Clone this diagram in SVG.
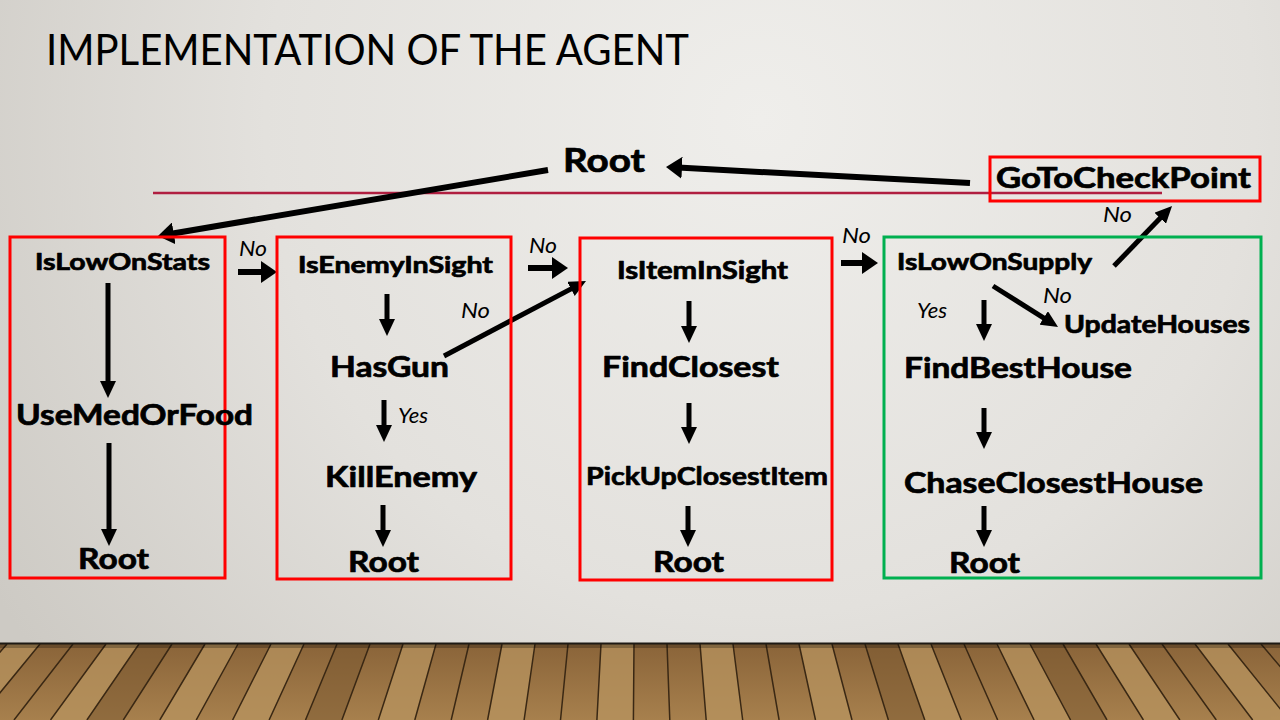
<svg xmlns="http://www.w3.org/2000/svg" width="1280" height="720" viewBox="0 0 1280 720">
<defs>
<radialGradient id="wall" cx="760" cy="120" r="900" gradientUnits="userSpaceOnUse">
<stop offset="0" stop-color="#efeeeb"/>
<stop offset="0.55" stop-color="#e3e1dd"/>
<stop offset="1" stop-color="#cdcac4"/>
</radialGradient>
<linearGradient id="floor" x1="0" y1="644" x2="0" y2="720" gradientUnits="userSpaceOnUse">
<stop offset="0" stop-color="#8a6439"/>
<stop offset="1" stop-color="#a7804d"/>
</linearGradient>
<marker id="ah" viewBox="0 0 17 16" markerWidth="17" markerHeight="16" refX="5" refY="8" orient="auto" markerUnits="userSpaceOnUse">
<path d="M0,0 L17,8 L0,16 z" fill="#000"/>
</marker>
<marker id="ahL" viewBox="0 0 16 22" markerWidth="16" markerHeight="22" refX="4" refY="11" orient="auto" markerUnits="userSpaceOnUse">
<path d="M0,0 L16,11 L0,22 z" fill="#000"/>
</marker>
</defs>
<style>
.b{font-family:Lato,"Open Sans","Liberation Sans",sans-serif;font-weight:bold;fill:#000;stroke:#000;stroke-width:0.7;stroke-linejoin:round}
.i{font-family:Lato,"Open Sans","Liberation Sans",sans-serif;font-style:italic;fill:#000;font-size:22px}
.title{font-family:Lato,"Open Sans","Liberation Sans",sans-serif;font-size:42px;fill:#000}
.red{fill:none;stroke:#ff0000;stroke-width:3}
.grn{fill:none;stroke:#00b050;stroke-width:3}
.c{stroke:#000;stroke-width:5;fill:none;marker-end:url(#ah)}
.cL{stroke:#000;stroke-width:6;fill:none;marker-end:url(#ahL)}
.plank{stroke:#3a2814;stroke-width:1.5;fill:none}
</style>

<rect x="0" y="0" width="1280" height="720" fill="url(#wall)"/>

<g id="floor-area">
<rect x="0" y="644" width="1280" height="76" fill="url(#floor)"/>
<g fill="#b8945f" opacity="0.75">
<polygon points="7,644 40,644 -22.4,720 -58.8,720"/>
<polygon points="106,644 139,644 86.9,720 50.5,720"/>
<polygon points="205,644 238,644 196.2,720 159.8,720"/>
<polygon points="271,644 304,644 269.1,720 232.6,720"/>
<polygon points="403,644 436,644 414.8,720 378.3,720"/>
<polygon points="502,644 535,644 524.1,720 487.6,720"/>
<polygon points="601,644 634,644 633.4,720 596.9,720"/>
<polygon points="700,644 733,644 742.7,720 706.2,720"/>
<polygon points="799,644 832,644 852,720 815.5,720"/>
<polygon points="898,644 931,644 961.3,720 924.8,720"/>
<polygon points="997,644 1030,644 1070.6,720 1034.1,720"/>
<polygon points="1096,644 1129,644 1179.9,720 1143.4,720"/>
<polygon points="1195,644 1228,644 1289.2,720 1252.7,720"/>
<polygon points="1294,644 1327,644 1398.4,720 1361.9,720"/>
</g>
<g fill="#7a5730" opacity="0.5">
<polygon points="337,644 370,644 341.9,720 305.5,720"/>
<polygon points="865,644 898,644 924.8,720 888.4,720"/>
<polygon points="139,644 172,644 123.3,720 86.9,720"/>
<polygon points="1030,644 1063,644 1107,720 1070.6,720"/>
</g>
<path class="plank" d="M7,644 L-58.8,720 M40,644 L-22.4,720 M73,644 L14,720 M106,644 L50.5,720 M139,644 L86.9,720 M172,644 L123.3,720 M205,644 L159.8,720 M238,644 L196.2,720 M271,644 L232.6,720 M304,644 L269.1,720 M337,644 L305.5,720 M370,644 L341.9,720 M403,644 L378.3,720 M436,644 L414.8,720 M469,644 L451.2,720 M502,644 L487.6,720 M535,644 L524.1,720 M568,644 L560.5,720 M601,644 L596.9,720 M634,644 L633.4,720 M667,644 L669.8,720 M700,644 L706.2,720 M733,644 L742.7,720 M766,644 L779.1,720 M799,644 L815.5,720 M832,644 L852,720 M865,644 L888.4,720 M898,644 L924.8,720 M931,644 L961.3,720 M964,644 L997.7,720 M997,644 L1034.1,720 M1030,644 L1070.6,720 M1063,644 L1107,720 M1096,644 L1143.4,720 M1129,644 L1179.9,720 M1162,644 L1216.3,720 M1195,644 L1252.7,720 M1228,644 L1289.2,720 M1261,644 L1325.6,720 M1294,644 L1361.9,720"/>
<rect x="0" y="644" width="1280" height="4" fill="#000" opacity="0.25"/>
<line x1="0" y1="643.5" x2="1280" y2="643.5" stroke="#1e1a14" stroke-width="2"/>
</g>

<text class="title" x="46" y="65" textLength="643" lengthAdjust="spacingAndGlyphs">IMPLEMENTATION OF THE AGENT</text>

<line x1="153" y1="193" x2="1162" y2="193" stroke="#b01e40" stroke-width="2.5"/>

<g id="connectors">
<line class="cL" x1="970" y1="183" x2="678" y2="167.6"/>
<line class="cL" x1="548" y1="170" x2="169.8" y2="234"/>
<line class="cL" x1="238" y1="272" x2="265" y2="272"/>
<line class="cL" x1="528" y1="268" x2="556" y2="268"/>
<line class="cL" x1="841" y1="263" x2="866" y2="263"/>
<line class="c" x1="444" y1="356" x2="575.4" y2="286.6"/>
<line class="c" x1="1114" y1="266" x2="1163.7" y2="214.6"/>
<line class="c" x1="993" y1="286" x2="1047.9" y2="320.6"/>
<line class="c" x1="108" y1="283" x2="108" y2="386"/>
<line class="c" x1="109" y1="443" x2="109" y2="534"/>
<line class="c" x1="387" y1="294" x2="387" y2="324"/>
<line class="c" x1="384" y1="400" x2="384" y2="430"/>
<line class="c" x1="383" y1="505" x2="383" y2="535"/>
<line class="c" x1="689" y1="301" x2="689" y2="331"/>
<line class="c" x1="689" y1="403" x2="689" y2="432"/>
<line class="c" x1="688" y1="506" x2="688" y2="535"/>
<line class="c" x1="984" y1="300" x2="984" y2="329"/>
<line class="c" x1="984" y1="408" x2="984" y2="437"/>
<line class="c" x1="984" y1="506" x2="984" y2="535"/>
<text class="i" x="239" y="256" textLength="28" lengthAdjust="spacingAndGlyphs">No</text>
<text class="i" x="529" y="253" textLength="28" lengthAdjust="spacingAndGlyphs">No</text>
<text class="i" x="842" y="243" textLength="29" lengthAdjust="spacingAndGlyphs">No</text>
<text class="i" x="461" y="318" textLength="29" lengthAdjust="spacingAndGlyphs">No</text>
<text class="i" x="1043" y="303" textLength="29" lengthAdjust="spacingAndGlyphs">No</text>
<text class="i" x="1103" y="222" textLength="29" lengthAdjust="spacingAndGlyphs">No</text>
<text class="i" x="398" y="423" textLength="30" lengthAdjust="spacingAndGlyphs">Yes</text>
<text class="i" x="917" y="318" textLength="30" lengthAdjust="spacingAndGlyphs">Yes</text>
</g>

<g id="root-top">
<text class="b" x="563" y="172" font-size="33" textLength="82" lengthAdjust="spacingAndGlyphs">Root</text>
</g>

<g id="goto-checkpoint">
<rect class="red" x="990" y="157" width="270" height="44"/>
<text class="b" x="996" y="188" font-size="28" textLength="255" lengthAdjust="spacingAndGlyphs">GoToCheckPoint</text>
</g>

<g id="box-lowstats">
<rect class="red" x="10" y="237" width="215" height="341"/>
<text class="b" x="35" y="270" font-size="23" textLength="175" lengthAdjust="spacingAndGlyphs">IsLowOnStats</text>
<text class="b" x="16" y="425" font-size="28" textLength="237" lengthAdjust="spacingAndGlyphs">UseMedOrFood</text>
<text class="b" x="78" y="569" font-size="29" textLength="71" lengthAdjust="spacingAndGlyphs">Root</text>
</g>

<g id="box-enemy">
<rect class="red" x="277" y="237" width="234" height="342"/>
<text class="b" x="298" y="273" font-size="23" textLength="195" lengthAdjust="spacingAndGlyphs">IsEnemyInSight</text>
<text class="b" x="330" y="377" font-size="28" textLength="119" lengthAdjust="spacingAndGlyphs">HasGun</text>
<text class="b" x="325" y="487" font-size="28" textLength="152" lengthAdjust="spacingAndGlyphs">KillEnemy</text>
<text class="b" x="348" y="572" font-size="29" textLength="71" lengthAdjust="spacingAndGlyphs">Root</text>
</g>

<g id="box-item">
<rect class="red" x="580" y="238" width="252" height="342"/>
<text class="b" x="617" y="279" font-size="24" textLength="171" lengthAdjust="spacingAndGlyphs">IsItemInSight</text>
<text class="b" x="602" y="377" font-size="28" textLength="177" lengthAdjust="spacingAndGlyphs">FindClosest</text>
<text class="b" x="586" y="485" font-size="25" textLength="242" lengthAdjust="spacingAndGlyphs">PickUpClosestItem</text>
<text class="b" x="653" y="572" font-size="29" textLength="71" lengthAdjust="spacingAndGlyphs">Root</text>
</g>

<g id="box-supply">
<rect class="grn" x="884" y="237" width="377" height="341"/>
<text class="b" x="897" y="270" font-size="23" textLength="195" lengthAdjust="spacingAndGlyphs">IsLowOnSupply</text>
<text class="b" x="1064" y="333" font-size="24" textLength="186" lengthAdjust="spacingAndGlyphs">UpdateHouses</text>
<text class="b" x="904" y="378" font-size="28" textLength="228" lengthAdjust="spacingAndGlyphs">FindBestHouse</text>
<text class="b" x="904" y="493" font-size="28" textLength="299" lengthAdjust="spacingAndGlyphs">ChaseClosestHouse</text>
<text class="b" x="949" y="573" font-size="29" textLength="71" lengthAdjust="spacingAndGlyphs">Root</text>
</g>
</svg>
